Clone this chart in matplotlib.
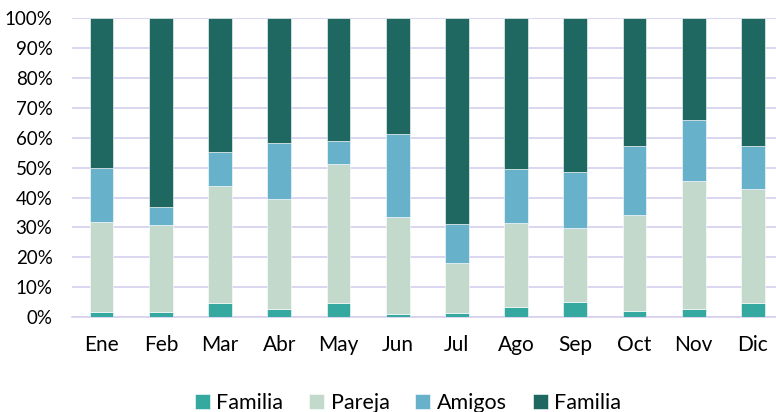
import matplotlib
matplotlib.use("Agg")
import matplotlib.pyplot as plt
import numpy as np
from matplotlib.ticker import PercentFormatter

plt.rcParams["font.family"] = ["Lato", "DejaVu Sans"]

# datos (porcentajes)
meses = ["Ene", "Feb", "Mar", "Abr", "May", "Jun", "Jul", "Ago", "Sep", "Oct", "Nov", "Dic"]
familia = [1.6, 1.6, 4.7, 2.6, 4.7, 0.9, 1.2, 3.2, 5.0, 2.0, 2.6, 4.6]
pareja = [30.1, 29.1, 39.3, 36.8, 46.5, 32.7, 16.8, 28.2, 24.7, 32.1, 42.9, 38.4]
amigos = [18.1, 6.1, 11.2, 18.8, 7.7, 27.5, 13.1, 18.1, 19.0, 23.1, 20.4, 14.1]
familia2 = [50.2, 63.2, 44.8, 41.8, 41.1, 38.9, 68.9, 50.5, 51.3, 42.8, 34.1, 42.9]

series = [
    ("Familia", familia, "#35a99f"),
    ("Pareja", pareja, "#c3d9cc"),
    ("Amigos", amigos, "#67b1cb"),
    ("Familia", familia2, "#1f6861"),
]

fig = plt.figure(figsize=(7.76, 4.12), dpi=100)
ax = fig.add_axes([0.0928, 0.2306, 0.9072, 0.725])

x = np.arange(len(meses))
bottom = np.zeros(len(meses))
for nombre, vals, color in series:
    vals = np.array(vals)
    ax.bar(x, vals, bottom=bottom, width=0.40, color=color, label=nombre,
           edgecolor="#ffffff", linewidth=0.4, zorder=3)
    bottom += vals

ax.set_ylim(0, 100)
ax.set_xlim(-0.5, 11.39)
ax.set_yticks(np.arange(0, 101, 10))
ax.yaxis.set_major_formatter(PercentFormatter(decimals=0))
ax.set_xticks(x)
ax.set_xticklabels(meses)

ax.grid(axis="y", color="#d6d0ee", linewidth=1.2, zorder=0)
for s in ["top", "right", "left"]:
    ax.spines[s].set_visible(False)
ax.spines["bottom"].set_color("#d6d0ee")
ax.spines["bottom"].set_linewidth(1.2)
ax.tick_params(axis="both", length=0, colors="#000000")
ax.tick_params(axis="x", pad=13, labelsize=15)
ax.tick_params(axis="y", pad=14, labelsize=13.5)

fig.legend(loc="center", bbox_to_anchor=(408 / 776, 1 - 403 / 412), ncol=4,
           frameon=False, fontsize=15.5, handlelength=0.7, handleheight=0.7,
           handletextpad=0.3, columnspacing=1.2, borderaxespad=0, borderpad=0)

fig.savefig("out.png", dpi=100)
